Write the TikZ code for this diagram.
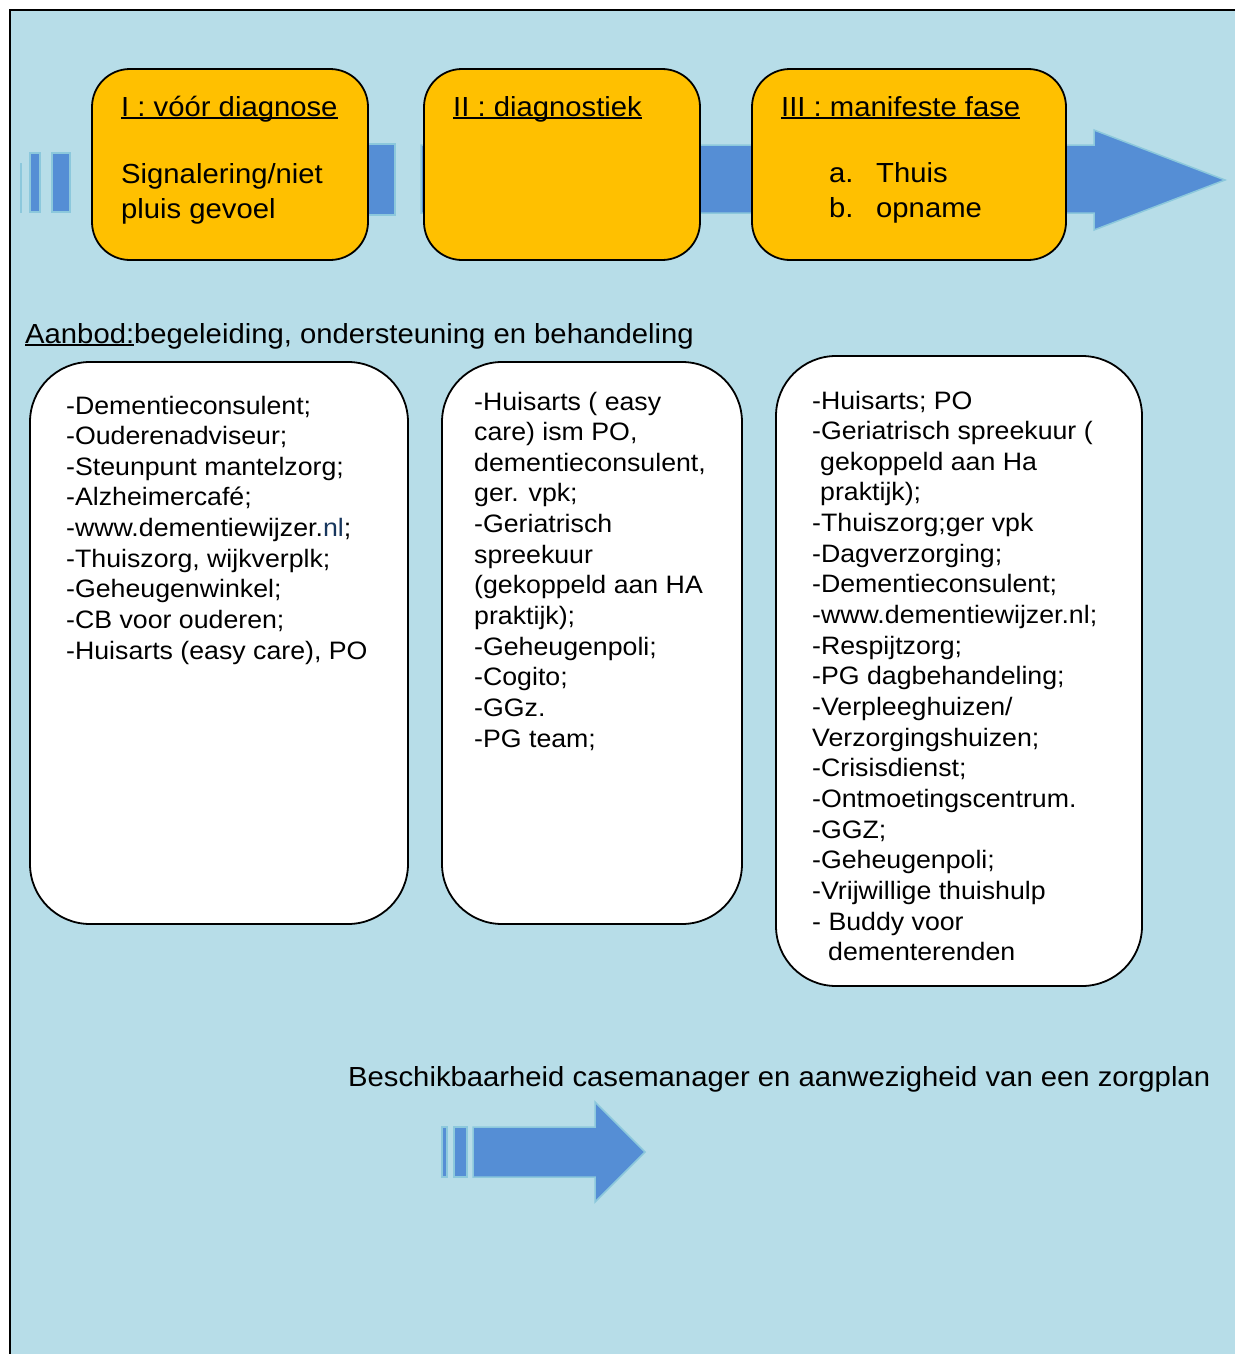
\documentclass[tikz,border=0pt]{standalone}
\usepackage{fontspec}
\setmainfont{Liberation Sans}[FakeStretch=1.06]
\definecolor{bgblue}{RGB}{183,221,232}
\definecolor{arrowblue}{RGB}{85,142,213}
\definecolor{arrowedge}{RGB}{140,200,220}
\definecolor{phaseorange}{RGB}{255,192,0}
\definecolor{linkblue}{RGB}{23,54,93}
\newcommand\myul[1]{\leavevmode\setbox0=\hbox{#1}\rlap{\rule[-3pt]{\wd0}{2pt}}\box0}
\newcommand\topfont{\fontsize{27.6pt}{35pt}\selectfont}
\newcommand\lowfont{\fontsize{25.2pt}{30.65pt}\selectfont}
\tikzset{
  arrowshape/.style={fill=arrowblue, draw=arrowedge, line width=1.5pt},
  phasebox/.style={draw=black, line width=1.8pt, fill=phaseorange, rounded corners=38pt, inner sep=0pt},
  listbox/.style={draw=black, line width=1.8pt, fill=white, rounded corners=60pt, inner sep=0pt},
  toptext/.style={anchor=base west, inner sep=0pt, font=\topfont},
  listtext/.style={anchor=base west, inner sep=0pt, font=\lowfont},
}
\begin{document}
\begin{tikzpicture}[x=1pt,y=-1pt]
\useasboundingbox (0,0) rectangle (1235,1354);
\fill[white] (0,0) rectangle (1235,1354);
\fill[bgblue] (10,10) rectangle (1235,1354);
\draw[line width=2pt] (10,1354) -- (10,10) -- (1235,10);

% top striped arrow
\path[fill=arrowedge] (20,163) rectangle (22,213);
\path[arrowshape] (30,153) rectangle (40,212);
\path[arrowshape] (52,153) rectangle (70,212);
\path[arrowshape] (110,144) rectangle (395,215);
\path[arrowshape] (421,145) -- (1094,145) -- (1094,130) -- (1225,180) -- (1094,230) -- (1094,213) -- (421,213) -- cycle;

% phase boxes
\node[phasebox, minimum width=276pt, minimum height=191pt] (p1) at (230,164.5) {};
\node[phasebox, minimum width=276pt, minimum height=191pt] (p2) at (562,164.5) {};
\node[phasebox, minimum width=314pt, minimum height=191pt] (p3) at (909,164.5) {};

\node[toptext] (p1t) at (121,116) {\myul{I : vóór diagnose}};
\node[toptext] (p1a) at (121,183) {Signalering/niet};
\node[toptext] (p1b) at (121,218) {pluis gevoel};
\node[toptext] (p2t) at (453,116) {\myul{II : diagnostiek}};
\node[toptext] (p3t) at (781,116) {\myul{III : manifeste fase}};
\node[toptext] (p3a) at (829,182) {a.};
\node[toptext] (p3aa) at (876,182) {Thuis};
\node[toptext] (p3b) at (829,217) {b.};
\node[toptext] (p3bb) at (876,217) {opname};

% offer heading
\node[toptext] (aanbod) at (25,343) {\myul{Aanbod:}begeleiding, ondersteuning en behandeling};

% list boxes
\node[listbox, minimum width=378pt, minimum height=562pt] (la) at (219,643) {};
\node[listbox, minimum width=300pt, minimum height=562pt] (lb) at (592,643) {};
\node[listbox, minimum width=366pt, minimum height=630pt] (lc) at (959,671) {};

\node[listtext] (lat) at (66,414) {\begin{minipage}[t]{340pt}\lowfont
-Dementieconsulent;\\
-Ouderenadviseur;\\
-Steunpunt mantelzorg;\\
-Alzheimercafé;\\
-www.dementiewijzer.{\color{linkblue}nl};\\
-Thuiszorg, wijkverplk;\\
-Geheugenwinkel;\\
-CB voor ouderen;\\
-Huisarts (easy care), PO
\end{minipage}};

\node[listtext] (lbt) at (474,410) {\begin{minipage}[t]{260pt}\lowfont
-Huisarts ( easy\\
care) ism PO,\\
dementieconsulent,\\
ger. vpk;\\
-Geriatrisch\\
spreekuur\\
(gekoppeld aan HA\\
praktijk);\\
-Geheugenpoli;\\
-Cogito;\\
-GGz.\\
-PG team;
\end{minipage}};

\node[listtext] (lct) at (812,409) {\begin{minipage}[t]{320pt}\lowfont
-Huisarts; PO\\
-Geriatrisch spreekuur (\\
\hspace*{8pt}gekoppeld aan Ha\\
\hspace*{8pt}praktijk);\\
-Thuiszorg;ger vpk\\
-Dagverzorging;\\
-Dementieconsulent;\\
-www.dementiewijzer.nl;\\
-Respijtzorg;\\
-PG dagbehandeling;\\
-Verpleeghuizen/\\
Verzorgingshuizen;\\
-Crisisdienst;\\
-Ontmoetingscentrum.\\
-GGZ;\\
-Geheugenpoli;\\
-Vrijwillige thuishulp\\
- Buddy voor\\
\hspace*{16pt}dementerenden
\end{minipage}};

% bottom
\node[toptext] (cm) at (348,1086) {Beschikbaarheid casemanager en aanwezigheid van een zorgplan};
\path[arrowshape] (442,1127) rectangle (447,1177);
\path[arrowshape] (454,1127) rectangle (467,1177);
\path[arrowshape] (473,1127) -- (595,1127) -- (595,1102) -- (645,1152) -- (595,1202) -- (595,1177) -- (473,1177) -- cycle;
\end{tikzpicture}
\end{document}
